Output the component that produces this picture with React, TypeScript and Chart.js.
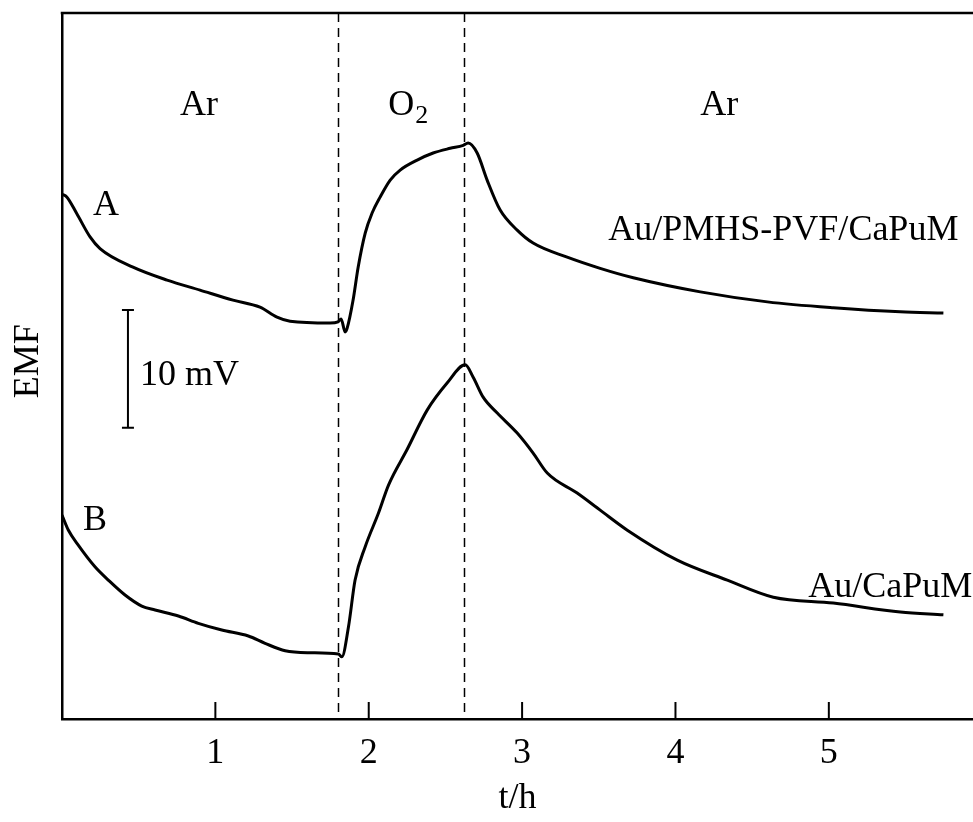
import React, { useEffect, useRef } from "react";
import { Chart, registerables } from "chart.js";

Chart.register(...registerables);

// Curve A: Au/PMHS-PVF/CaPuM
const timeA = [0, 0.031, 0.096, 0.183, 0.248, 0.463, 0.685, 0.9, 1.115, 1.291, 1.402, 1.487, 1.748, 1.8, 1.82, 1.846, 1.859, 1.898, 1.931, 1.977, 2.022, 2.074, 2.14, 2.205, 2.316, 2.42, 2.531, 2.616, 2.648, 2.707, 2.772, 2.857, 2.968, 3.072, 3.294, 3.509, 3.725, 4.162, 4.599, 5.029, 5.466, 5.747];
const emfA = [44.6, 44.37, 42.96, 40.97, 39.98, 38.4, 37.3, 36.45, 35.6, 35.0, 34.15, 33.8, 33.65, 33.75, 34.0, 32.9, 33.2, 35.6, 38.4, 41.3, 43.0, 44.35, 45.8, 46.65, 47.5, 48.1, 48.5, 48.75, 48.95, 48.1, 45.8, 43.25, 41.55, 40.45, 39.25, 38.3, 37.5, 36.3, 35.45, 34.95, 34.6, 34.5];

// Curve B: Au/CaPuM
const timeB = [0, 0.041, 0.106, 0.215, 0.302, 0.411, 0.52, 0.607, 0.759, 0.889, 1.042, 1.215, 1.324, 1.455, 1.607, 1.802, 1.825, 1.868, 1.911, 1.977, 2.063, 2.129, 2.25, 2.381, 2.511, 2.629, 2.681, 2.746, 2.838, 2.968, 3.072, 3.164, 3.359, 3.509, 3.686, 4.012, 4.338, 4.638, 5.029, 5.466, 5.747];
const emfB = [17.33, 16.06, 14.78, 12.94, 11.81, 10.54, 9.6, 9.26, 8.75, 8.13, 7.56, 7.05, 6.43, 5.8, 5.63, 5.52, 5.29, 7.84, 11.81, 14.64, 17.48, 19.88, 22.9, 26.25, 28.55, 30.1, 29.05, 27.35, 26.0, 24.3, 22.6, 20.9, 19.2, 17.75, 16.05, 13.5, 11.8, 10.35, 9.85, 9.1, 8.85];

const xTickValues = [1, 2, 3, 4, 5];
const gasSwitchTimes = [1.8, 2.622];
const xRange = [0, 5.94];
const yRange = [0, 60];
const scaleBarTime = 0.43;
const scaleBarEmf = [24.75, 34.75];
const yAxisTitle = "EMF";
const yAxisTitleEmf = 30.4;

const FONT = '"Liberation Serif", "Times New Roman", serif';

type Label = { text: string; t: number; v: number; align: CanvasTextAlign; size: number; sub?: string };
const labels: Label[] = [
  { text: "Ar", t: 0.894, v: 51.3, align: "center", size: 36 },
  { text: "O", t: 2.127, v: 51.3, align: "left", size: 36, sub: "2" },
  { text: "Ar", t: 4.286, v: 51.3, align: "center", size: 36 },
  { text: "A", t: 0.287, v: 42.8, align: "center", size: 36 },
  { text: "B", t: 0.215, v: 16.06, align: "center", size: 36 },
  { text: "Au/PMHS-PVF/CaPuM", t: 3.562, v: 40.7, align: "left", size: 36 },
  { text: "Au/CaPuM", t: 4.866, v: 10.37, align: "left", size: 36 },
  { text: "10 mV", t: 0.509, v: 28.4, align: "left", size: 36 },
];

export default function App() {
  const ref = useRef<HTMLCanvasElement>(null);

  useEffect(() => {
    const canvas = ref.current;
    if (!canvas) return;

    const overlay = {
      id: "overlay",
      beforeDatasetsDraw(chart: any) {
        const { ctx, chartArea: ca, scales } = chart;
        const x = scales.x;
        ctx.save();
        ctx.strokeStyle = "#000";
        ctx.lineWidth = 1.5;
        ctx.setLineDash([9, 6]);
        for (const t of gasSwitchTimes) {
          const px = Math.round(x.getPixelForValue(t)) + 0.5;
          ctx.beginPath();
          ctx.moveTo(px, ca.top);
          ctx.lineTo(px, ca.bottom);
          ctx.stroke();
        }
        ctx.restore();
      },
      afterDatasetsDraw(chart: any) {
        const { ctx, chartArea: ca, scales } = chart;
        const x = scales.x;
        const y = scales.y;
        ctx.save();
        ctx.strokeStyle = "#000";
        ctx.fillStyle = "#000";
        // top border
        ctx.lineWidth = 2.5;
        ctx.beginPath();
        ctx.moveTo(ca.left - 1.25, ca.top);
        ctx.lineTo(ca.right, ca.top);
        ctx.stroke();
        // inward tick marks
        ctx.lineWidth = 2;
        for (const v of xTickValues) {
          const px = x.getPixelForValue(v);
          ctx.beginPath();
          ctx.moveTo(px, ca.bottom);
          ctx.lineTo(px, ca.bottom - 17);
          ctx.stroke();
        }
        // scale bar
        const bx = x.getPixelForValue(scaleBarTime);
        const by0 = y.getPixelForValue(scaleBarEmf[0]);
        const by1 = y.getPixelForValue(scaleBarEmf[1]);
        ctx.lineWidth = 2;
        ctx.beginPath();
        ctx.moveTo(bx, by0);
        ctx.lineTo(bx, by1);
        ctx.moveTo(bx - 6, by0);
        ctx.lineTo(bx + 6, by0);
        ctx.moveTo(bx - 6, by1);
        ctx.lineTo(bx + 6, by1);
        ctx.stroke();
        // y axis title
        ctx.save();
        ctx.translate(29, y.getPixelForValue(yAxisTitleEmf));
        ctx.rotate(-Math.PI / 2);
        ctx.font = `36px ${FONT}`;
        ctx.textAlign = "center";
        ctx.textBaseline = "middle";
        ctx.fillText(yAxisTitle, 0, 0);
        ctx.restore();
        // text labels
        ctx.textBaseline = "alphabetic";
        for (const l of labels) {
          const px = x.getPixelForValue(l.t);
          const py = y.getPixelForValue(l.v);
          ctx.font = `${l.size}px ${FONT}`;
          ctx.textAlign = l.align;
          ctx.fillText(l.text, px, py);
          if (l.sub) {
            const w = ctx.measureText(l.text).width;
            ctx.font = `${Math.round(l.size * 0.72)}px ${FONT}`;
            ctx.textAlign = "left";
            ctx.fillText(l.sub, px + w + 1, py + 8);
          }
        }
        ctx.restore();
      },
    };

    const chart = new Chart(canvas, {
      type: "line",
      data: {
        datasets: [
          {
            label: "Au/PMHS-PVF/CaPuM",
            data: timeA.map((t, i) => ({ x: t, y: emfA[i] })),
            borderColor: "#000",
            borderWidth: 3,
            pointRadius: 0,
            cubicInterpolationMode: "monotone",
            fill: false,
          },
          {
            label: "Au/CaPuM",
            data: timeB.map((t, i) => ({ x: t, y: emfB[i] })),
            borderColor: "#000",
            borderWidth: 3,
            pointRadius: 0,
            cubicInterpolationMode: "monotone",
            fill: false,
          },
        ],
      },
      options: {
        responsive: false,
        animation: false,
        layout: { padding: { top: 13, left: 0, right: 0, bottom: 0 } },
        plugins: { legend: { display: false }, tooltip: { enabled: false } },
        scales: {
          x: {
            type: "linear",
            min: xRange[0],
            max: xRange[1],
            afterBuildTicks: (s: any) => {
              s.ticks = xTickValues.map((v) => ({ value: v }));
            },
            afterFit: (s: any) => {
              s.height = 103;
            },
            ticks: {
              color: "#000",
              padding: 13,
              maxRotation: 0,
              font: { family: FONT, size: 36 },
              callback: (v: any) => String(v),
            },
            grid: { display: true, drawOnChartArea: false, drawTicks: false },
            border: { display: true, color: "#000", width: 2.5 },
            title: {
              display: true,
              text: "t/h",
              color: "#000",
              font: { family: FONT, size: 36 },
              padding: 2,
            },
          },
          y: {
            type: "linear",
            min: yRange[0],
            max: yRange[1],
            afterFit: (s: any) => {
              s.width = 62;
            },
            ticks: { display: false },
            grid: { display: true, drawOnChartArea: false, drawTicks: false },
            border: { display: true, color: "#000", width: 2.5 },
            title: { display: false },
          },
        },
      },
      plugins: [overlay],
    } as any);

    return () => chart.destroy();
  }, []);

  return (
    <canvas
      ref={ref}
      width={973}
      height={822}
      style={{ position: "fixed", left: 0, top: 0, width: 973, height: 822, background: "#fff" }}
    />
  );
}
